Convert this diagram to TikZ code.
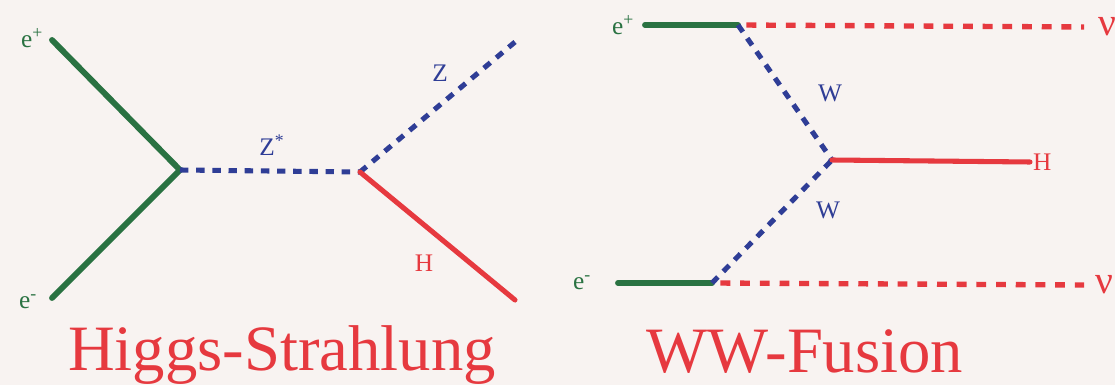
\documentclass[tikz,border=0pt]{standalone}
\usepackage{fontspec}
\setmainfont{Liberation Serif}
\usetikzlibrary{positioning}
\definecolor{fgreen}{HTML}{2A7242}
\definecolor{bblue}{HTML}{2F3D96}
\definecolor{hred}{HTML}{E6393F}
\definecolor{paper}{HTML}{F8F3F1}

\begin{document}
\begin{tikzpicture}[
    x=0.025cm, y=-0.025cm,
    fermion/.style={draw=fgreen, line width=4.2pt, line cap=round},
    boson/.style={draw=bblue, line width=3.6pt, dash pattern=on 6pt off 5.5pt},
    higgs/.style={draw=hred, line width=3.6pt, line cap=round},
    neutrino/.style={draw=hred, line width=3.8pt, dash pattern=on 7pt off 7pt},
    plabel/.style={font=\fontsize{18}{18}\selectfont, inner sep=1pt},
    nulabel/.style={font=\fontsize{28}{28}\selectfont, inner sep=0pt, text=hred},
    title/.style={text=hred, font=\fontsize{46}{46}\selectfont, anchor=base, inner sep=0pt}
]
\fill[paper] (0,0) rectangle (1115,385);
\useasboundingbox (0,0) rectangle (1115,385);

% Higgs-Strahlung (left diagram)
\coordinate (hs-ep) at (52,40);
\coordinate (hs-em) at (52,298);
\coordinate (hs-v1) at (180,170);
\coordinate (hs-v2) at (360,172);
\coordinate (hs-z) at (515,42);
\coordinate (hs-h) at (515,300);

\draw[fermion] (hs-ep) -- (hs-v1);
\draw[fermion] (hs-em) -- (hs-v1);
\draw[boson] (hs-v1) -- (hs-v2);
\draw[boson] (hs-v2) -- (hs-z);
\draw[higgs] (hs-v2) -- (hs-h);

\node[plabel, text=fgreen] (hs-lep) at (32,38) {e\textsuperscript{+}};
\node[plabel, text=fgreen] (hs-lem) at (28,302) {e\textsuperscript{-}};
\node[plabel, text=bblue] (hs-lzs) at (272,145) {Z\textsuperscript{*}};
\node[plabel, text=bblue] (hs-lz) at (440,73) {Z};
\node[plabel, text=hred] (hs-lh) at (424,263) {H};

% WW-Fusion (right diagram)
\coordinate (ww-ep) at (645,25);
\coordinate (ww-va) at (738,25);
\coordinate (ww-em) at (618,283);
\coordinate (ww-vb) at (712,283);
\coordinate (ww-vh) at (832,160);
\coordinate (ww-h) at (1030,162);
\coordinate (ww-nu1) at (1084,27);
\coordinate (ww-nu2) at (1084,285);

\draw[fermion] (ww-ep) -- (ww-va);
\draw[fermion] (ww-em) -- (ww-vb);
\draw[boson] (ww-va) -- (ww-vh);
\draw[boson] (ww-vb) -- (ww-vh);
\draw[higgs] (ww-vh) -- (ww-h);
\draw[neutrino, shorten <=6pt] (ww-va) -- (ww-nu1);
\draw[neutrino, shorten <=6pt] (ww-vb) -- (ww-nu2);

\node[plabel, text=fgreen] (ww-lep) at (623,25) {e\textsuperscript{+}};
\node[plabel, text=fgreen] (ww-lem) at (582,283) {e\textsuperscript{-}};
\node[plabel, text=bblue] (ww-lw1) at (830,93) {W};
\node[plabel, text=bblue] (ww-lw2) at (828,210) {W};
\node[plabel, text=hred, right=1pt of ww-h] (ww-lh) {H};
\node[nulabel, right=10pt of ww-nu1] (ww-lnu1) {ν};
\node[nulabel, right=8pt of ww-nu2] (ww-lnu2) {ν};

% Titles
\node[title] (hs-title) at (282,370) {Higgs-Strahlung};
\node[title] (ww-title) at (805,372) {WW-Fusion};

\end{tikzpicture}
\end{document}
